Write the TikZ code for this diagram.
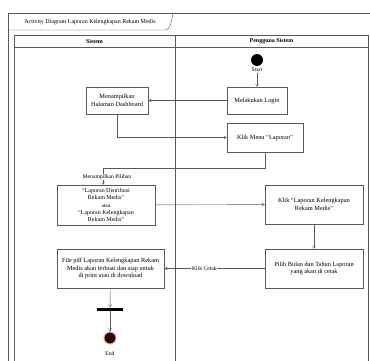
\documentclass[tikz,border=0pt]{standalone}
\usepackage{fontspec}
\setmainfont{Liberation Serif}
\usepackage{xcolor}
\usetikzlibrary{arrows}
\usetikzlibrary{shapes}

\definecolor{linie}{gray}{0.35}
\definecolor{endrot}{RGB}{215,60,70}

\tikzset{
rahmen/.style={draw=linie, line width=0.6pt},
aktion/.style={draw=linie, line width=0.6pt, rectangle, align=center, inner sep=1pt, font=\fontsize{9}{10.5}\selectfont},
kopf/.style={font=\bfseries\fontsize{8.5}{10}\selectfont},
beschriftung/.style={font=\fontsize{8}{9}\selectfont, inner sep=1pt},
pfeil/.style={-angle 60, draw=linie, line width=0.6pt}
}

\begin{document}
\begin{tikzpicture}[x=0.05cm, y=-0.05cm]
\useasboundingbox (0,0) rectangle (370,361);
\clip (0,0) rectangle (370,361); % Rahmen laufen rechts und unten aus dem Bild hinaus
\draw[rahmen] (8,380) -- (8,13) -- (380,13);
\draw[rahmen] (8,30) -- (166,30) .. controls (170,30) and (172,20) .. (173,13);
\node[beschriftung, font=\fontsize{8.5}{10}\selectfont] (titel) at (90,22) {Activity Diagram Laporan Kelengkapan Rekam Medis};
% Bahnen
\draw[rahmen] (14,380) -- (14,35) -- (368,35) -- (368,380);
\draw[rahmen] (14,47) -- (368,47);
\draw[rahmen] (175,35) -- (175,380);
\node[kopf] (sistem) at (94.5,41) {Sistem};
\node[kopf] (pengguna) at (271.5,41) {Pengguna Sistem};

\node[circle, fill=black, inner sep=0pt, minimum size=0.6cm] (start) at (257,60) {};
\node[beschriftung] (startname) at (257,70) {Start};
\node[aktion, minimum width=3cm, minimum height=1.35cm] (login) at (257,100.5) {Melakukan Login};
\node[aktion, minimum width=3.1cm, minimum height=1.35cm] (dashboard) at (117,100.5) {Menampilkan\\Halaman Dashboard};
\node[aktion, minimum width=3.8cm, minimum height=1.45cm] (menu) at (265,137.5) {Klik Menu ``Laporan''};
\node[aktion, minimum width=4.9cm, minimum height=2cm, inner sep=0pt, font=\fontsize{8.5}{10.5}\selectfont] (pilihan) at (106,205) {``Laporan Distribusi\\Rekam Medis''\\{\fontsize{7.5}{8}\selectfont atau}\\``Laporan Kelengkapan\\Rekam Medis''};
\node[aktion, minimum width=4.9cm, minimum height=1.95cm] (kelengkapan) at (314,204.5) {Klik ``Laporan Kelengkapan\\Rekam Medis''};
\node[aktion, minimum width=4.9cm, minimum height=1.95cm] (pilih) at (314,268.5) {Pilih Bulan dan Tahun Laporan\\yang akan di cetak};
\node[aktion, minimum width=5.35cm, minimum height=1.95cm] (pdf) at (110.5,268.5) {File pdf Laporan Kelengkapan Rekam\\Medis akan terbuat dan siap untuk\\di print atau di download};
\node[rectangle, fill=black, inner sep=0pt, minimum width=1.3cm, minimum height=0.15cm] (gabel) at (110,309) {};
\node[circle, fill=black!85!red, draw=endrot!45, line width=1.5pt, inner sep=0pt, minimum size=0.6cm] (ende) at (110,338) {};
\node[beschriftung] (endname) at (110,354) {End};

\coordinate (knick) at (103,168);
\draw[pfeil] (startname) -- (login);
\draw[pfeil] (login) -- (dashboard);
\draw[pfeil] (dashboard) |- (menu);
\draw[pfeil] (menu.south) |- (knick) -- (knick |- pilihan.north);
\node[beschriftung, fill=white] (zeigen) at (107,177) {Menampilkan Pilihan};
\draw[pfeil] (pilihan) -- (kelengkapan);
\draw[pfeil] (kelengkapan) -- (pilih);
\draw[pfeil] (pilih) -- node[beschriftung, pos=0.6, fill=white] {Klik Cetak} (pdf);
\draw[pfeil] (pdf) -- (gabel);
\draw[pfeil] (gabel) -- (ende);
\end{tikzpicture}
\end{document}
